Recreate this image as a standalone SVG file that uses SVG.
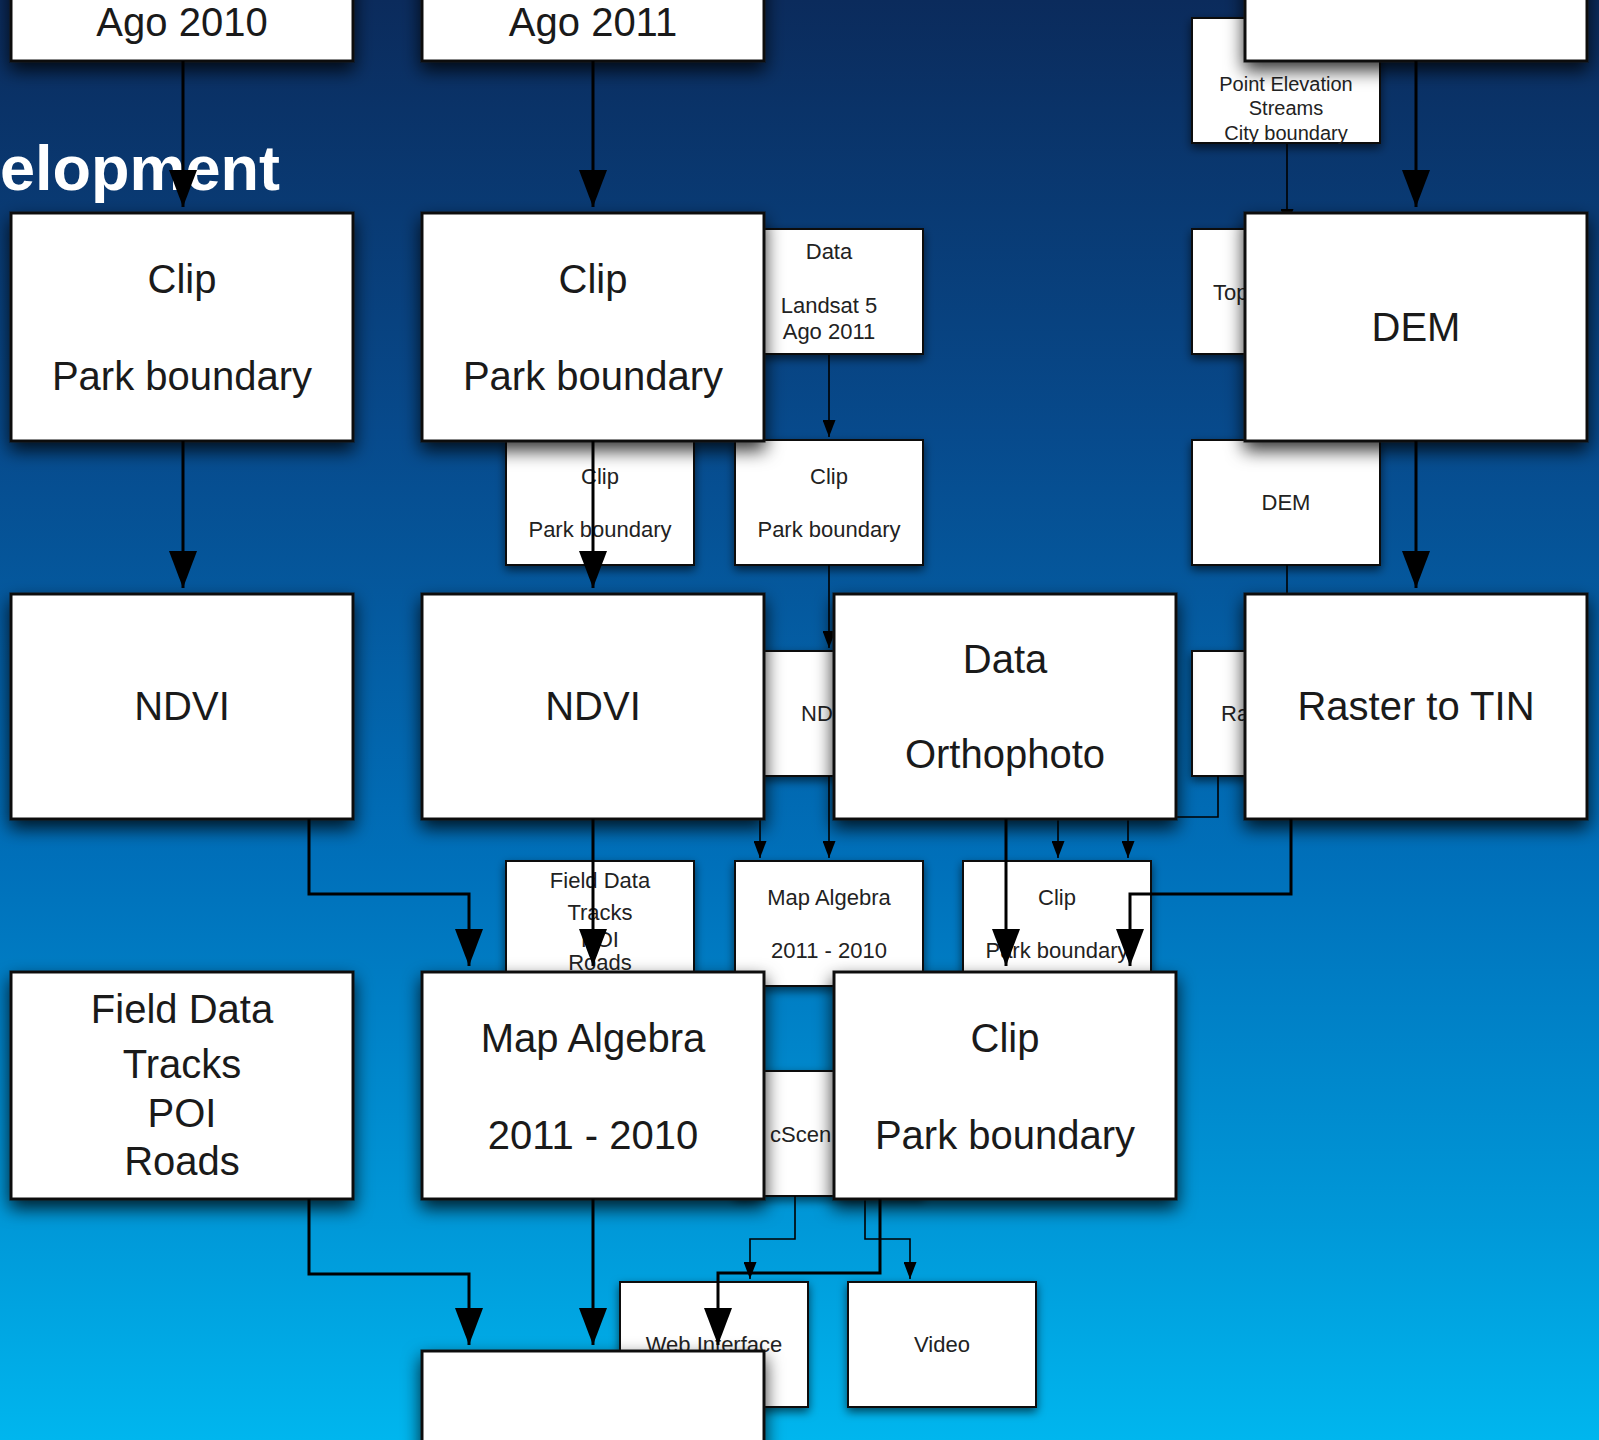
<svg xmlns="http://www.w3.org/2000/svg" width="1599" height="1440" viewBox="0 0 1599 1440">
<defs>
<linearGradient id="bg" x1="0" y1="0" x2="0" y2="1">
<stop offset="0" stop-color="#0b2b5c"/>
<stop offset="0.3" stop-color="#074a8c"/>
<stop offset="0.6" stop-color="#0070ba"/>
<stop offset="0.85" stop-color="#0098d8"/>
<stop offset="1" stop-color="#00b6ee"/>
</linearGradient>
<filter id="shBig" x="-20%" y="-20%" width="140%" height="150%">
<feDropShadow dx="0" dy="8" stdDeviation="9" flood-color="#000" flood-opacity="0.8"/>
</filter>
<filter id="shSmall" x="-20%" y="-20%" width="140%" height="150%">
<feDropShadow dx="0" dy="4" stdDeviation="5" flood-color="#000" flood-opacity="0.6"/>
</filter>
<marker id="arrBig" viewBox="0 0 37 28" refX="37" refY="14" markerWidth="37" markerHeight="28" markerUnits="userSpaceOnUse" orient="auto">
<path d="M0,0 L37,14 L0,28 z" fill="#000"/>
</marker>
<marker id="arrSmall" viewBox="0 0 17 13" refX="17" refY="6.5" markerWidth="17" markerHeight="13" markerUnits="userSpaceOnUse" orient="auto">
<path d="M0,0 L17,6.5 L0,13 z" fill="#000"/>
</marker>
</defs>
<style>
.sbox{fill:#fff;stroke:#111;stroke-width:2;filter:url(#shSmall)}
.bbox{fill:#fff;stroke:#111;stroke-width:3;filter:url(#shBig)}
.st{font-family:"Liberation Sans",Arial,sans-serif;font-size:22px;fill:#222;text-anchor:middle}
.st20{font-family:"Liberation Sans",Arial,sans-serif;font-size:20px;fill:#222;text-anchor:middle}
.frag{font-family:"Liberation Sans",Arial,sans-serif;font-size:22px;fill:#222}
.bt{font-family:"Liberation Sans",Arial,sans-serif;font-size:40px;fill:#1a1a1a;text-anchor:middle}
.thin{fill:none;stroke:#000;stroke-width:1.6;marker-end:url(#arrSmall)}
.thinNo{fill:none;stroke:#000;stroke-width:1.6}
.thick{fill:none;stroke:#000;stroke-width:3;marker-end:url(#arrBig)}
.title{font-family:"Liberation Sans",Arial,sans-serif;font-size:63px;font-weight:bold;fill:#fff}
</style>
<rect x="0" y="0" width="1599" height="1440" fill="url(#bg)"/>

<g id="bg-nodes">
<g id="s-pointelev"><rect class="sbox" x="1192" y="18" width="188" height="125"/>
<text class="st20" x="1286" y="91">Point Elevation</text><text class="st20" x="1286" y="115">Streams</text><text class="st20" x="1286" y="140">City boundary</text></g>
<g id="s-top"><rect class="sbox" x="1192" y="229" width="188" height="125"/><text class="frag" x="1213" y="300">Top</text></g>
<g id="s-data"><rect class="sbox" x="735" y="229" width="188" height="125"/>
<text class="st" x="829" y="259">Data</text><text class="st" x="829" y="313">Landsat 5</text><text class="st" x="829" y="339">Ago 2011</text></g>
<g id="s-clipA"><rect class="sbox" x="506" y="440" width="188" height="125"/>
<text class="st" x="600" y="484">Clip</text><text class="st" x="600" y="537">Park boundary</text></g>
<g id="s-clipB"><rect class="sbox" x="735" y="440" width="188" height="125"/>
<text class="st" x="829" y="484">Clip</text><text class="st" x="829" y="537">Park boundary</text></g>
<g id="s-dem"><rect class="sbox" x="1192" y="440" width="188" height="125"/><text class="st" x="1286" y="510">DEM</text></g>
<g id="s-ndvi"><rect class="sbox" x="735" y="651" width="188" height="125"/><text class="frag" x="801" y="721">ND</text></g>
<g id="s-raster"><rect class="sbox" x="1192" y="651" width="188" height="125"/><text class="frag" x="1221" y="721">Ra</text></g>
<g id="s-field"><rect class="sbox" x="506" y="861" width="188" height="125"/>
<text class="st" x="600" y="888">Field Data</text><text class="st" x="600" y="920">Tracks</text><text class="st" x="600" y="947">POI</text><text class="st" x="600" y="970">Roads</text></g>
<g id="s-mapalg"><rect class="sbox" x="735" y="861" width="188" height="125"/>
<text class="st" x="829" y="905">Map Algebra</text><text class="st" x="829" y="958">2011 - 2010</text></g>
<g id="s-clipC"><rect class="sbox" x="963" y="861" width="188" height="125"/>
<text class="st" x="1057" y="905">Clip</text><text class="st" x="1057" y="958">Park boundary</text></g>
<g id="s-arcscene"><rect class="sbox" x="735" y="1071" width="188" height="125"/><text class="frag" x="770" y="1142">cScen</text></g>
<g id="s-web"><rect class="sbox" x="620" y="1282" width="188" height="125"/><text class="st" x="714" y="1352">Web Interface</text></g>
<g id="s-video"><rect class="sbox" x="848" y="1282" width="188" height="125"/><text class="st" x="942" y="1352">Video</text></g>
</g>

<g id="bg-connectors">
<path class="thin" d="M1287 144 V226"/>
<path class="thin" d="M829 355 V437"/>
<path class="thin" d="M829 565 V648"/>
<path class="thin" d="M829 776 V858"/>
<path class="thin" d="M760 790 V858"/>
<path class="thin" d="M1058 776 V858"/>
<path class="thin" d="M1218 776 V817 H1128 V858"/>
<path class="thinNo" d="M1287 565 V651"/>
<path class="thin" d="M795 1196 V1239 H750 V1279"/>
<path class="thin" d="M865 1196 V1239 H910 V1279"/>
</g>

<g id="fg-nodes">
<g id="ago2010"><rect class="bbox" x="11" y="-166" width="342" height="227"/><text class="bt" x="182" y="36">Ago 2010</text></g>
<g id="ago2011"><rect class="bbox" x="422" y="-166" width="342" height="227"/><text class="bt" x="593" y="36">Ago 2011</text></g>
<g id="topright"><rect class="bbox" x="1245" y="-166" width="342" height="227"/></g>
<g id="clip1"><rect class="bbox" x="11" y="213" width="342" height="228"/><text class="bt" x="182" y="293">Clip</text><text class="bt" x="182" y="390">Park boundary</text></g>
<g id="clip2"><rect class="bbox" x="422" y="213" width="342" height="228"/><text class="bt" x="593" y="293">Clip</text><text class="bt" x="593" y="390">Park boundary</text></g>
<g id="dem"><rect class="bbox" x="1245" y="213" width="342" height="228"/><text class="bt" x="1416" y="341">DEM</text></g>
<g id="ndvi1"><rect class="bbox" x="11" y="594" width="342" height="225"/><text class="bt" x="182" y="720">NDVI</text></g>
<g id="ndvi2"><rect class="bbox" x="422" y="594" width="342" height="225"/><text class="bt" x="593" y="720">NDVI</text></g>
<g id="ortho"><rect class="bbox" x="834" y="594" width="342" height="225"/><text class="bt" x="1005" y="673">Data</text><text class="bt" x="1005" y="768">Orthophoto</text></g>
<g id="tin"><rect class="bbox" x="1245" y="594" width="342" height="225"/><text class="bt" x="1416" y="720">Raster to TIN</text></g>
<g id="field"><rect class="bbox" x="11" y="972" width="342" height="227"/>
<text class="bt" x="182" y="1023">Field Data</text><text class="bt" x="182" y="1078">Tracks</text><text class="bt" x="182" y="1127">POI</text><text class="bt" x="182" y="1175">Roads</text></g>
<g id="mapalg"><rect class="bbox" x="422" y="972" width="342" height="227"/><text class="bt" x="593" y="1052">Map Algebra</text><text class="bt" x="593" y="1149">2011 - 2010</text></g>
<g id="clip3"><rect class="bbox" x="834" y="972" width="342" height="227"/><text class="bt" x="1005" y="1052">Clip</text><text class="bt" x="1005" y="1149">Park boundary</text></g>
<g id="bottom"><rect class="bbox" x="422" y="1351" width="342" height="227"/></g>
</g>

<text class="title" x="0" y="190">elopment</text>

<g id="connectors">
<path class="thick" d="M183 61 V207"/>
<path class="thick" d="M593 61 V207"/>
<path class="thick" d="M1416 61 V207"/>
<path class="thick" d="M183 441 V588"/>
<path class="thick" d="M593 441 V588"/>
<path class="thick" d="M1416 441 V588"/>
<path class="thick" d="M309 819 V894 H469 V966"/>
<path class="thick" d="M593 819 V966"/>
<path class="thick" d="M1006 819 V966"/>
<path class="thick" d="M1291 819 V894 H1130 V966"/>
<path class="thick" d="M309 1199 V1274 H469 V1345"/>
<path class="thick" d="M593 1199 V1345"/>
<path class="thick" d="M880 1199 V1273 H718 V1345"/>
</g>
</svg>
